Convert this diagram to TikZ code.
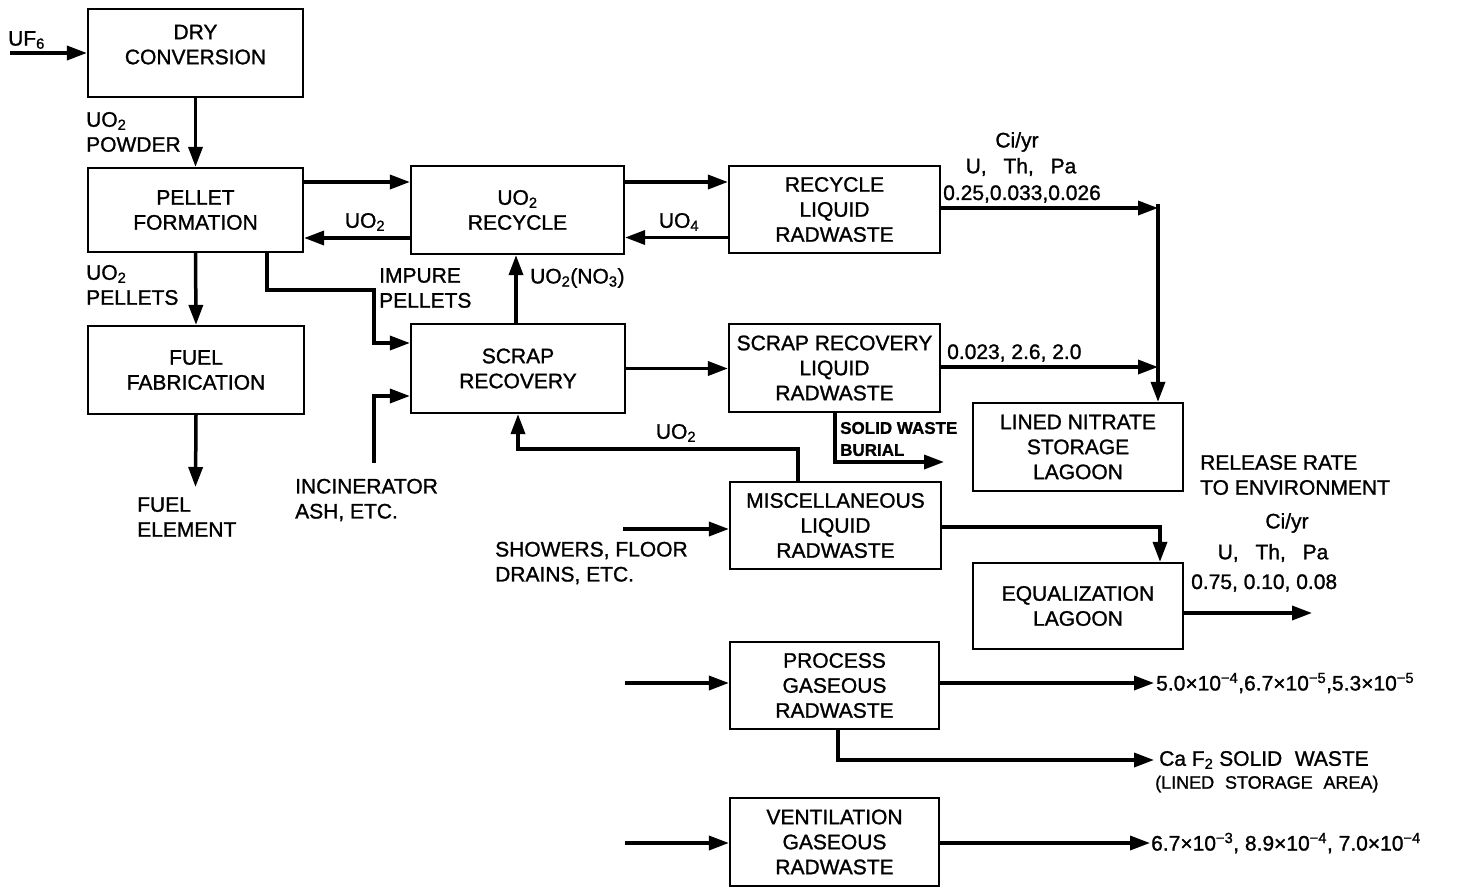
\documentclass[tikz,border=0pt]{standalone}
\usepackage{fontspec}
\setmainfont{Liberation Sans}[FakeBold=1.2]
\usetikzlibrary{arrows.meta}
\begin{document}
\begin{tikzpicture}[x=1pt,y=-1pt,
  font=\fontsize{21}{25}\selectfont,
  box/.style={draw,line width=2.2pt,inner sep=0pt,align=center},
  conn/.style={line width=3.5pt},
  arr/.style={conn,-{Triangle[length=20pt,width=14pt]}},
  lbl/.style={inner sep=0pt,align=left,anchor=west},
  clbl/.style={inner sep=0pt,align=center},
  small/.style={font=\fontsize{17}{22}\selectfont\bfseries}
]
\useasboundingbox (0,0) rectangle (1468,887);

% boxes
\node[box,minimum width=215pt,minimum height=88pt] (dry) at (195.5,53) {DRY\\CONVERSION\\[-8pt]};
\node[box,minimum width=215pt,minimum height=84pt] (pellet) at (195.5,210) {PELLET\\FORMATION};
\node[box,minimum width=216pt,minimum height=88pt] (fuel) at (196,370) {FUEL\\FABRICATION};
\node[box,minimum width=213pt,minimum height=88pt] (recyc) at (517.5,210) {UO\textsubscript{2}\\RECYCLE};
\node[box,minimum width=214pt,minimum height=89pt] (scrap) at (518,368.5) {SCRAP\\RECOVERY};
\node[box,minimum width=211pt,minimum height=87pt] (rlr) at (834.5,209.5) {RECYCLE\\LIQUID\\RADWASTE};
\node[box,minimum width=211pt,minimum height=88pt] (srlr) at (834.5,368) {SCRAP RECOVERY\\LIQUID\\RADWASTE};
\node[box,minimum width=211pt,minimum height=87pt] (misc) at (835.5,525.5) {MISCELLANEOUS\\LIQUID\\RADWASTE};
\node[box,minimum width=210pt,minimum height=88pt] (lined) at (1078,447) {LINED NITRATE\\STORAGE\\LAGOON};
\node[box,minimum width=210pt,minimum height=86pt] (equal) at (1078,606) {EQUALIZATION\\LAGOON};
\node[box,minimum width=209pt,minimum height=87pt] (proc) at (834.5,685.5) {PROCESS\\GASEOUS\\RADWASTE};
\node[box,minimum width=209pt,minimum height=88pt] (vent) at (834.5,842) {VENTILATION\\GASEOUS\\RADWASTE};

% free ends
\coordinate (uf) at (10,53);
\coordinate (fe) at (195.5,487);
\coordinate (ip) at (374,290);
\coordinate (inc) at (374,463);
\coordinate (jt) at (1158,206);
\coordinate (sw) at (944,462);
\coordinate (ur) at (518,449);
\coordinate (sh) at (623,529);
\coordinate (env) at (1312,613);
\coordinate (pin) at (625,683);
\coordinate (pout) at (1154,683);
\coordinate (cf) at (1154,760);
\coordinate (vin) at (625,843);
\coordinate (vout) at (1150,843);

% connectors
\draw[arr] (uf) -- (dry.west);
\draw[arr] (dry.south) -- (pellet.north);
\draw[arr] (pellet.south) -- (fuel.north);
\draw[arr] (fuel.south) -- (fe);
\draw[arr] ([yshift=28pt]pellet.east) -- ([yshift=28pt]recyc.west);
\draw[arr] ([yshift=-28pt]recyc.west) -- ([yshift=-28pt]pellet.east);
\draw[arr] ([yshift=28pt]recyc.east) -- ([yshift=28pt]recyc.east -| rlr.west);
\draw[arr] ([yshift=-28pt]rlr.west) -- ([yshift=-28pt]rlr.west -| recyc.east);
\draw[arr] ([xshift=71.5pt]pellet.south) |- (ip) |- ([yshift=25.5pt]scrap.west);
\draw[arr] (inc) |- ([yshift=-27.5pt]scrap.west);
\draw[arr] ([xshift=-2pt]scrap.north) -- ([xshift=-2pt]scrap.north |- recyc.south);
\draw[arr] (scrap.east) -- (scrap.east -| srlr.west);
\draw[arr] ([yshift=1.5pt]rlr.east) -- ([yshift=1.5pt]rlr.east -| jt);
\draw[arr] ([yshift=1pt]srlr.east) -- ([yshift=1pt]srlr.east -| jt);
\draw[arr] ([yshift=1.75pt]jt) -- (jt |- lined.north);
\draw[arr] ([xshift=0.5pt]srlr.south) |- (sw);
\draw[arr] ([xshift=-37.5pt]misc.north) |- (ur) -- (scrap.south);
\draw[arr] (sh) -- (sh -| misc.west);
\draw[arr] ([yshift=-1.5pt]misc.east) -| ([xshift=82pt]equal.north);
\draw[arr] ([yshift=-7pt]equal.east) -- (env);
\draw[arr] (pin) -- (pin -| proc.west);
\draw[arr] (pin -| proc.east) -- (pout);
\draw[arr] ([xshift=3.5pt]proc.south) |- (cf);
\draw[arr] (vin) -- (vin -| vent.west);
\draw[arr] (vin -| vent.east) -- (vout);

% labels
\node[lbl] (luf) at (8,40) {UF\textsubscript{6}};
\node[lbl] (lpow) at (86,132) {UO\textsubscript{2}\\POWDER};
\node[lbl] (lpel) at (86,285) {UO\textsubscript{2}\\PELLETS};
\node[clbl] (luo2a) at (365,222) {UO\textsubscript{2}};
\node[lbl] (limp) at (379,288) {IMPURE\\PELLETS};
\node[lbl] (lno3) at (530,278) {UO\textsubscript{2}(NO\textsubscript{3})};
\node[clbl] (luo4) at (679,222) {UO\textsubscript{4}};
\node[clbl] (lci1) at (1017,142) {Ci/yr};
\node[clbl] (lutp1) at (1021,167) {U,\hspace{0.8em}Th,\hspace{0.8em}Pa};
\node[lbl] (ln1) at (943,194) {0.25,0.033,0.026};
\node[lbl] (ln2) at (947,353) {0.023, 2.6, 2.0};
\node[lbl,small] (lsw) at (840,439) {SOLID WASTE\\BURIAL};
\node[clbl] (luo2b) at (676,433) {UO\textsubscript{2}};
\node[lbl] (lfe) at (137,517) {FUEL\\ELEMENT};
\node[lbl] (linc) at (295,500) {INCINERATOR\\ASH, ETC.};
\node[lbl] (lsh) at (495,563) {SHOWERS, FLOOR\\DRAINS, ETC.};
\node[lbl] (lrel) at (1200,475) {RELEASE RATE\\TO ENVIRONMENT};
\node[clbl] (lci2) at (1287,523) {Ci/yr};
\node[clbl] (lutp2) at (1273,553) {U,\hspace{0.8em}Th,\hspace{0.8em}Pa};
\node[lbl] (ln3) at (1191,583) {0.75, 0.10, 0.08};
\node[lbl] (ln4) at (1156,683) {5.0×10\textsuperscript{−4},6.7×10\textsuperscript{−5},5.3×10\textsuperscript{−5}};
\node[lbl] (lcaf) at (1159,760) {Ca F\textsubscript{2} SOLID\hspace{0.6em}WASTE};
\node[lbl,font=\fontsize{18}{22}\selectfont] (llin) at (1155,784) {(LINED\hspace{0.6em}STORAGE\hspace{0.6em}AREA)};
\node[lbl] (ln5) at (1151,843) {6.7×10\textsuperscript{−3}, 8.9×10\textsuperscript{−4}, 7.0×10\textsuperscript{−4}};
\end{tikzpicture}
\end{document}
